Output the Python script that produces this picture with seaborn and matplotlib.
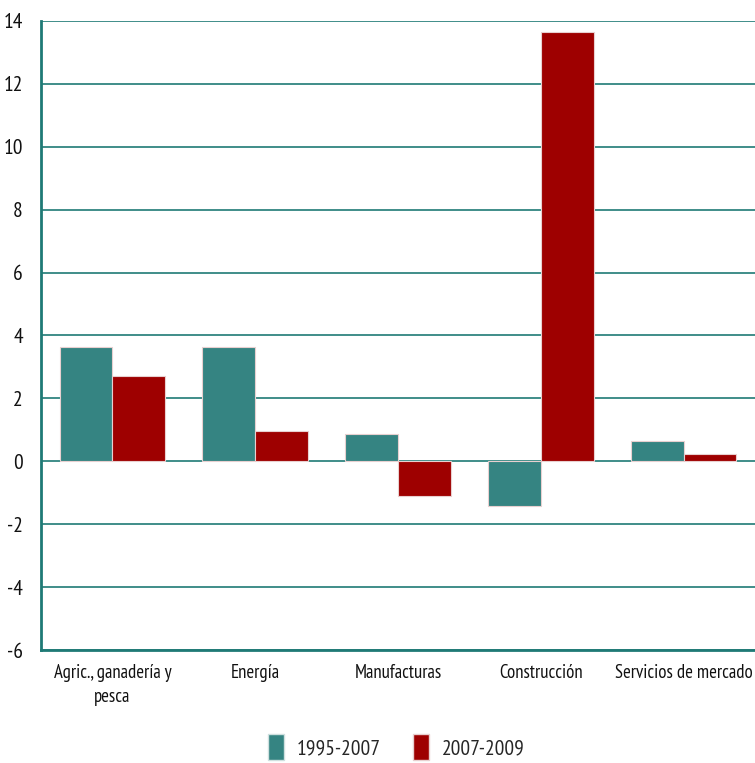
import matplotlib
matplotlib.use("Agg")
import matplotlib.pyplot as plt
import seaborn as sns
import pandas as pd
from matplotlib.patches import Patch

categories = ["Agric., ganadería y\npesca", "Energía", "Manufacturas", "Construcción", "Servicios de mercado"]
series_names = ["1995-2007", "2007-2009"]
values_1995_2007 = [3.62, 3.62, 0.86, -1.43, 0.64]
values_2007_2009 = [2.70, 0.95, -1.10, 13.65, 0.23]
yticks = [-6, -4, -2, 0, 2, 4, 6, 8, 10, 12, 14]
colors = ["#358482", "#9E0000"]

df = pd.DataFrame({
    "cat": categories * 2,
    "serie": [series_names[0]] * 5 + [series_names[1]] * 5,
    "val": values_1995_2007 + values_2007_2009,
})

sns.set_style("white")
plt.rcParams['font.family'] = ["PT Sans Narrow", 'DejaVu Sans']

fig = plt.figure(figsize=(7.55, 7.63), dpi=100)
ax = fig.add_axes([41/755, 113/763, 1 - 41/755, (650-21)/763])

sns.barplot(data=df, x="cat", y="val", hue="serie", palette=colors, width=0.74,
            edgecolor="#e8d0d0", linewidth=0.8, ax=ax, legend=False, saturation=1)

ax.set_ylim(-6, 14)
ax.set_xlim(-0.5, 4.5)
ax.set_yticks(yticks)
ax.set_yticklabels([str(t) for t in yticks], fontsize=15.5, color="#111111")
ax.set_xticks(range(len(categories)))
ax.set_xticklabels(categories, fontsize=13.5, color="#111111", linespacing=1.45)
ax.tick_params(axis="both", length=0)
ax.tick_params(axis="x", pad=10)
ax.tick_params(axis="y", pad=13)
ax.set_xlabel("")
ax.set_ylabel("")

for t in yticks:
    ax.axhline(t, color="#1f7a76", linewidth=1.2, zorder=0.5)
for s in ["top", "right"]:
    ax.spines[s].set_visible(False)
ax.spines["left"].set_color("#1f7a76")
ax.spines["left"].set_linewidth(2)
ax.spines["bottom"].set_color("#1f7a76")
ax.spines["bottom"].set_linewidth(2)
ax.grid(False)

handles = [Patch(facecolor=colors[0], edgecolor="#cfe0df"), Patch(facecolor=colors[1], edgecolor="#e8d0d0")]
fig.legend(handles, series_names, loc="lower center", bbox_to_anchor=(0.525, -0.022), ncol=2,
           frameon=False, prop=dict(size=15.5),
           handlelength=0.75, handleheight=1.5, columnspacing=1.5, handletextpad=0.6)

fig.savefig("out.png", dpi=100)
